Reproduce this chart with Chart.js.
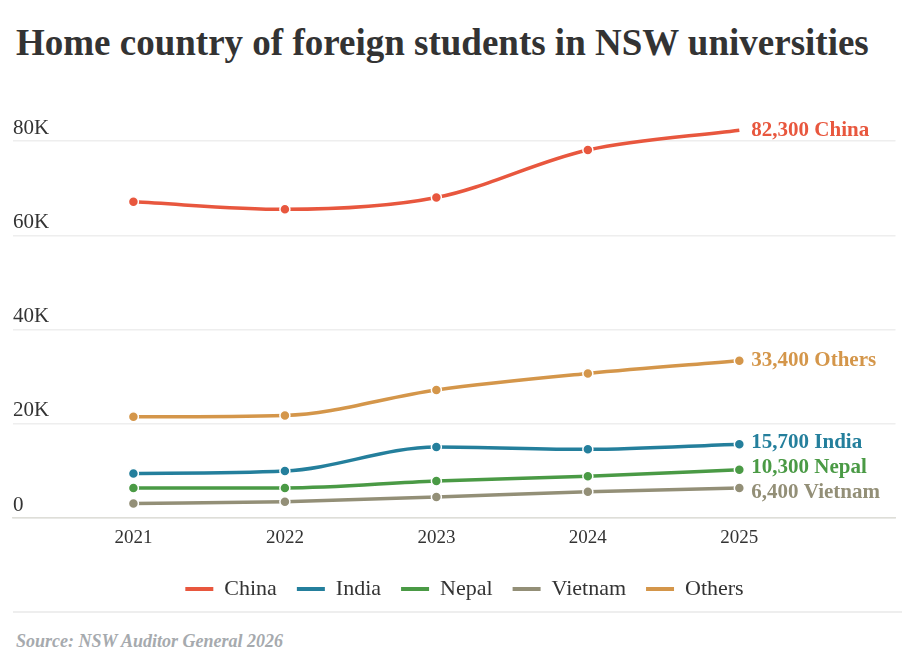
<!DOCTYPE html>
<html>
<head>
<meta charset="utf-8">
<script src="https://cdn.jsdelivr.net/npm/chart.js@4/dist/chart.umd.min.js"></script>
<style>
  html, body { margin: 0; padding: 0; background: #fff; }
  body { width: 902px; height: 664px; position: relative; overflow: hidden; font-family: 'Liberation Serif', serif; }
  #title { position: absolute; left: 16px; top: 21px; font-size: 37px; font-weight: bold; color: #333; white-space: nowrap; }
  #wrap { position: absolute; left: 0; top: 90px; width: 902px; height: 520px; }
  #rule { position: absolute; left: 13px; right: 0; top: 611px; border-top: 2px solid #eeeeee; }
  #source { position: absolute; left: 16px; top: 631px; font-size: 18px; font-weight: bold; font-style: italic; color: #a6aaae; }
</style>
</head>
<body>
<div id="title">Home country of foreign students in NSW universities</div>
<div id="wrap"><canvas id="chart"></canvas></div>
<div id="rule"></div>
<div id="source">Source: NSW Auditor General 2026</div>
<script>
// Values
const years = [2021, 2022, 2023, 2024, 2025];
const seriesNames = ['China', 'India', 'Nepal', 'Vietnam', 'Others'];
const china = [67100, 65500, 68000, 78100, 82300];
const india = [9500, 10000, 15100, 14600, 15700];
const nepal = [6400, 6400, 7900, 8900, 10300];
const vietnam = [3100, 3500, 4500, 5600, 6400];
const others = [21500, 21800, 27200, 30700, 33400];
const yTicks = [0, 20000, 40000, 60000, 80000];
const colors = ['#e8573e', '#247f9c', '#4a9a45', '#938f77', '#d4964a'];

const allSeries = [china, india, nepal, vietnam, others];
const LABEL_GAP = 25;

function toPoints(values) {
  return values.map((v, i) => ({ x: years[i], y: v }));
}

// Labels at the end of each line: "82,300 China", nudged apart when they collide
const endLabels = {
  id: 'endLabels',
  afterLayout(chart) {
    // legend sits a little right of centre in the original
    chart.legend.left += 8;
    chart.legend.right += 8;
  },
  afterDatasetsDraw(chart) {
    const ctx = chart.ctx;
    const items = chart.data.datasets.map((ds, i) => {
      const meta = chart.getDatasetMeta(i);
      const last = meta.data[meta.data.length - 1];
      const val = ds.data[ds.data.length - 1].y;
      return { x: last.x + 12, y: last.y, color: ds.borderColor, text: val.toLocaleString('en-US') + ' ' + ds.label };
    }).sort((a, b) => a.y - b.y);

    for (let pass = 0; pass < 20; pass++) {
      for (let k = 1; k < items.length; k++) {
        const d = items[k].y - items[k - 1].y;
        if (d < LABEL_GAP) {
          const shift = (LABEL_GAP - d) / 2;
          items[k].y += shift;
          items[k - 1].y -= shift;
        }
      }
    }

    ctx.save();
    ctx.font = 'bold 21px "Liberation Serif", serif';
    ctx.textBaseline = 'middle';
    ctx.textAlign = 'left';
    items.forEach(it => {
      ctx.fillStyle = it.color;
      ctx.fillText(it.text, it.x, it.y);
    });
    ctx.restore();
  }
};

new Chart(document.getElementById('chart'), {
  type: 'line',
  data: {
    datasets: seriesNames.map((name, i) => ({
      label: name,
      data: toPoints(allSeries[i]),
      borderColor: colors[i],
      backgroundColor: colors[i],
      borderWidth: 3.5,
      cubicInterpolationMode: 'monotone',
      pointRadius: 5,
      pointBackgroundColor: colors[i],
      pointBorderColor: '#fff',
      pointBorderWidth: 1.5,
      clip: false
    }))
  },
  options: {
    responsive: true,
    maintainAspectRatio: false,
    animation: false,
    layout: { padding: { left: 13, right: 2, top: 51, bottom: 0 } },
    plugins: {
      tooltip: { enabled: false },
      legend: {
        position: 'bottom',
        labels: {
          color: '#333',
          font: { family: '"Liberation Serif", serif', size: 22 },
          boxWidth: 28,
          boxHeight: 4,
          padding: 20,
          generateLabels: chart => Chart.defaults.plugins.legend.labels.generateLabels(chart)
            .map(l => Object.assign(l, { lineWidth: 0, strokeStyle: 'transparent' }))
        }
      }
    },
    scales: {
      x: {
        type: 'linear',
        min: 2020.205,
        max: 2026.031,
        afterBuildTicks: s => { s.ticks = years.map(v => ({ value: v })); },
        afterFit: s => { s.height += 1; },
        grid: { display: false, drawTicks: false },
        border: { display: true, color: '#deded8', width: 1.5 },
        ticks: {
          color: '#333',
          padding: 8,
          font: { family: '"Liberation Serif", serif', size: 19 },
          callback: v => String(v)
        }
      },
      y: {
        min: 0,
        max: 80000,
        afterBuildTicks: s => { s.ticks = yTicks.map(v => ({ value: v })); },
        grid: { color: '#eeeeee', lineWidth: 1.5, drawTicks: false },
        border: { display: false },
        ticks: {
          mirror: true,
          padding: 0,
          labelOffset: -13,
          color: '#333',
          font: { family: '"Liberation Serif", serif', size: 21 },
          callback: v => v === 0 ? '0' : (v / 1000) + 'K'
        }
      }
    }
  },
  plugins: [endLabels]
});
</script>
</body>
</html>
